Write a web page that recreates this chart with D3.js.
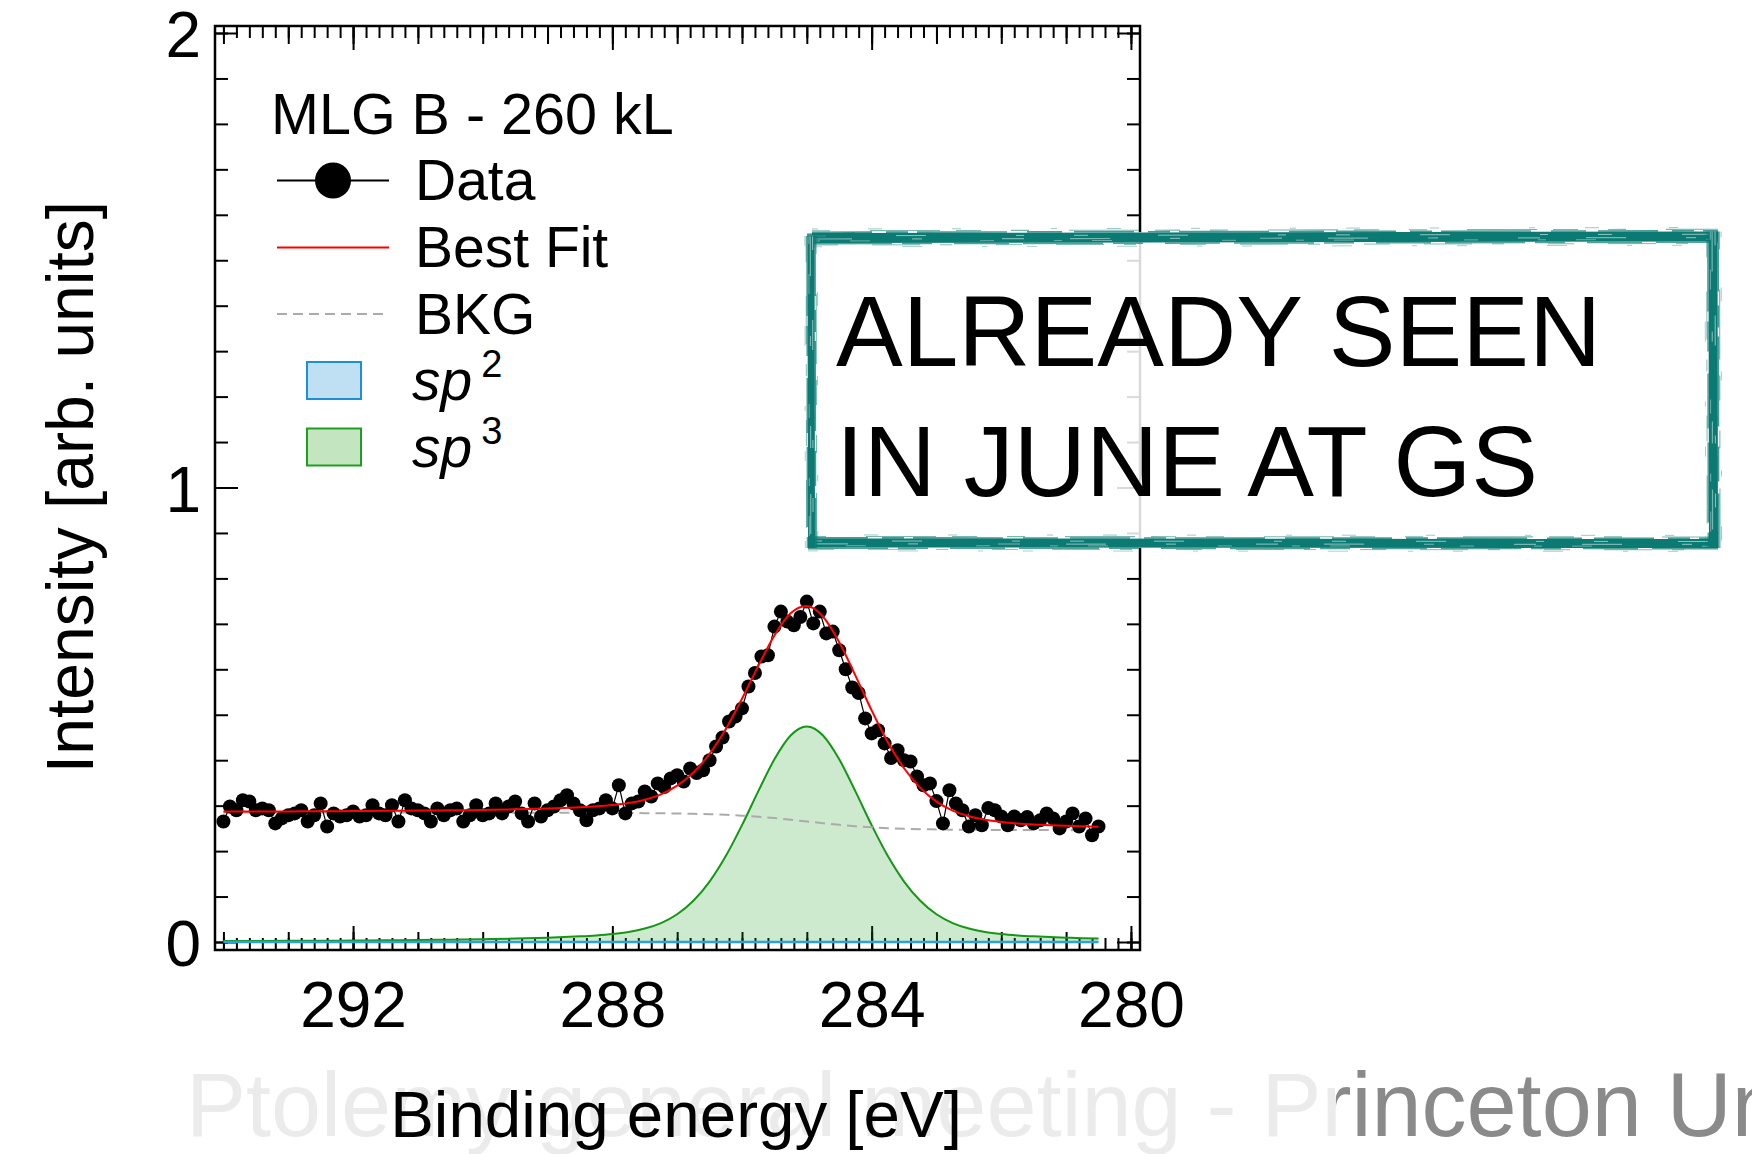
<!DOCTYPE html>
<html>
<head>
<meta charset="utf-8">
<script src="https://cdn.jsdelivr.net/npm/d3@7/dist/d3.min.js"></script>
<style>
  html, body { margin: 0; padding: 0; background: #fff; }
  svg { display: block; }
  text { font-family: "Liberation Sans", Arial, Helvetica, sans-serif; }
</style>
</head>
<body>
<svg id="chart" width="1752" height="1154"></svg>
<script>
// ---- C 1s spectrum, MLG sample B after 260 kL exposure ----
// binding energy of each measured point [eV]
const energy = [
  294.0, 293.9, 293.8, 293.7, 293.6, 293.5, 293.4, 293.3, 293.2, 293.1,
  293.0, 292.9, 292.8, 292.7, 292.6, 292.5, 292.4, 292.3, 292.2, 292.1,
  292.0, 291.9, 291.8, 291.7, 291.6, 291.5, 291.4, 291.3, 291.2, 291.1,
  291.0, 290.9, 290.8, 290.7, 290.6, 290.5, 290.4, 290.3, 290.2, 290.1,
  290.0, 289.9, 289.8, 289.7, 289.6, 289.5, 289.4, 289.3, 289.2, 289.1,
  289.0, 288.9, 288.8, 288.7, 288.6, 288.5, 288.4, 288.3, 288.2, 288.1,
  288.0, 287.9, 287.8, 287.7, 287.6, 287.5, 287.4, 287.3, 287.2, 287.1,
  287.0, 286.9, 286.8, 286.7, 286.6, 286.5, 286.4, 286.3, 286.2, 286.1,
  286.0, 285.9, 285.8, 285.7, 285.6, 285.5, 285.4, 285.3, 285.2, 285.1,
  285.0, 284.9, 284.8, 284.7, 284.6, 284.5, 284.4, 284.3, 284.2, 284.1,
  284.0, 283.9, 283.8, 283.7, 283.6, 283.5, 283.4, 283.3, 283.2, 283.1,
  283.0, 282.9, 282.8, 282.7, 282.6, 282.5, 282.4, 282.3, 282.2, 282.1,
  282.0, 281.9, 281.8, 281.7, 281.6, 281.5, 281.4, 281.3, 281.2, 281.1,
  281.0, 280.9, 280.8, 280.7, 280.6, 280.5
];
// measured intensity [arb. units]
const intensity = [
  0.265, 0.298, 0.290, 0.312, 0.309, 0.290, 0.294, 0.290, 0.261, 0.272,
  0.279, 0.283, 0.290, 0.265, 0.279, 0.305, 0.254, 0.283, 0.276, 0.279,
  0.287, 0.276, 0.279, 0.301, 0.283, 0.279, 0.301, 0.265, 0.312, 0.294,
  0.290, 0.283, 0.265, 0.294, 0.279, 0.290, 0.294, 0.265, 0.279, 0.301,
  0.279, 0.283, 0.305, 0.283, 0.298, 0.309, 0.283, 0.265, 0.305, 0.276,
  0.290, 0.298, 0.312, 0.323, 0.305, 0.290, 0.268, 0.290, 0.294, 0.312,
  0.294, 0.345, 0.283, 0.305, 0.309, 0.331, 0.320, 0.349, 0.341, 0.360,
  0.367, 0.353, 0.382, 0.372, 0.378, 0.400, 0.430, 0.450, 0.485, 0.496,
  0.514, 0.562, 0.592, 0.628, 0.631, 0.694, 0.727, 0.705, 0.697, 0.715,
  0.749, 0.701, 0.727, 0.679, 0.683, 0.642, 0.600, 0.560, 0.548, 0.492,
  0.459, 0.466, 0.437, 0.405, 0.422, 0.400, 0.397, 0.364, 0.345, 0.349,
  0.310, 0.261, 0.334, 0.305, 0.290, 0.254, 0.279, 0.257, 0.295, 0.290,
  0.276, 0.257, 0.276, 0.268, 0.275, 0.261, 0.268, 0.283, 0.272, 0.250,
  0.265, 0.283, 0.254, 0.272, 0.235, 0.254
];

// fit model sampled on its own energy grid [eV]
const fitEnergy = [
  294.0, 293.5, 293.0, 292.5, 292.0, 291.5, 291.0, 290.5, 290.0, 289.5,
  289.0, 288.75, 288.5, 288.25, 288.0, 287.75, 287.5, 287.25, 287.0, 286.75,
  286.5, 286.25, 286.0, 285.75, 285.5, 285.25, 285.0, 284.75, 284.5, 284.25,
  284.0, 283.75, 283.5, 283.25, 283.0, 282.75, 282.5, 282.25, 282.0, 281.75,
  281.5, 281.25, 281.0, 280.75, 280.5
];
const bestFit = [
  0.2870, 0.2872, 0.2874, 0.2877, 0.2880, 0.2886, 0.2891, 0.2898, 0.2907, 0.2920,
  0.2938, 0.2950, 0.2965, 0.2985, 0.3014, 0.3058, 0.3131, 0.3249, 0.3439, 0.3728,
  0.4142, 0.4689, 0.5351, 0.6070, 0.6745, 0.7233, 0.7392, 0.7157, 0.6597, 0.5862,
  0.5095, 0.4395, 0.3822, 0.3390, 0.3088, 0.2889, 0.2765, 0.2688, 0.2641, 0.2609,
  0.2587, 0.2570, 0.2556, 0.2546, 0.2536
];
const background = [
  0.2850, 0.2850, 0.2849, 0.2849, 0.2848, 0.2848, 0.2847, 0.2846, 0.2845, 0.2844,
  0.2843, 0.2842, 0.2841, 0.2840, 0.2839, 0.2837, 0.2835, 0.2832, 0.2828, 0.2821,
  0.2812, 0.2799, 0.2780, 0.2756, 0.2726, 0.2690, 0.2652, 0.2614, 0.2578, 0.2548,
  0.2524, 0.2505, 0.2492, 0.2483, 0.2477, 0.2472, 0.2469, 0.2467, 0.2466, 0.2464,
  0.2463, 0.2462, 0.2461, 0.2461, 0.2460
];
const sp2Component = [
  0, 0, 0, 0, 0, 0, 0, 0, 0, 0,
  0, 0, 0, 0, 0, 0, 0, 0, 0, 0,
  0, 0, 0, 0, 0, 0, 0, 0, 0, 0,
  0, 0, 0, 0, 0, 0, 0, 0, 0, 0,
  0, 0, 0, 0, 0
];
const sp3Component = [
  0.0020, 0.0022, 0.0025, 0.0028, 0.0032, 0.0038, 0.0044, 0.0052, 0.0062, 0.0076,
  0.0095, 0.0108, 0.0124, 0.0145, 0.0175, 0.0221, 0.0296, 0.0417, 0.0611, 0.0907,
  0.1330, 0.1890, 0.2571, 0.3314, 0.4019, 0.4543, 0.4740, 0.4543, 0.4019, 0.3314,
  0.2571, 0.1890, 0.1330, 0.0907, 0.0611, 0.0417, 0.0296, 0.0221, 0.0175, 0.0145,
  0.0124, 0.0108, 0.0095, 0.0085, 0.0076
];

const xTickLabels = [292, 288, 284, 280];
const yTickLabels = [0, 1, 2];
const xTitle = "Binding energy [eV]";
const yTitle = "Intensity [arb. units]";
const legendTitle = "MLG B - 260 kL";
const legendLabels = ["Data", "Best Fit", "BKG", "sp", "sp"];
const legendSup = ["", "", "", "2", "3"];
const noteLines = ["ALREADY SEEN", "IN JUNE AT GS"];
const footerText = "Ptolemy general meeting - Princeton University";

// ---- layout ----
const svg = d3.select("#chart");
const frame = { left: 215, right: 1140, top: 26, bottom: 950 };
const x = d3.scaleLinear().domain([294.13, 279.86]).range([frame.left, frame.right]);
const y = d3.scaleLinear().domain([-0.0176, 2.0154]).range([frame.bottom, frame.top]);

// slide footer, washed out behind the plot panel
svg.append("text")
  .attr("x", 186).attr("y", 1136)
  .attr("font-size", 90).attr("fill", "#8a8a8a")
  .text(footerText);
svg.append("rect")
  .attr("x", 0).attr("y", 0).attr("width", 1336).attr("height", 1154)
  .attr("fill", "#fff").attr("fill-opacity", 0.83);

// ---- axes (ROOT style: inward ticks on all four sides) ----
const axes = svg.append("g").attr("class", "axes");
function tickLayer(axis, tx, ty) {
  const g = axes.append("g").attr("transform", `translate(${tx},${ty})`).call(axis);
  g.select(".domain").remove();
  g.selectAll(".tick line").attr("stroke", "#000").attr("stroke-width", 2);
  return g;
}
const [xLo, xHi] = [279.86, 294.13];
const xMinor = d3.ticks(xLo, xHi, 70);
const xMid = d3.ticks(xLo, xHi, 14);
const yMinor = d3.ticks(-0.0176, 2.0154, 20);

[[d3.axisBottom, frame.bottom], [d3.axisTop, frame.top]].forEach(([mk, pos]) => {
  tickLayer(mk(x).tickValues(xMinor).tickSize(-12).tickFormat(""), 0, pos);
  tickLayer(mk(x).tickValues(xMid).tickSize(-18).tickFormat(""), 0, pos);
  tickLayer(mk(x).tickValues(xTickLabels).tickSize(-24).tickFormat(""), 0, pos);
});
[[d3.axisLeft, frame.left], [d3.axisRight, frame.right]].forEach(([mk, pos]) => {
  tickLayer(mk(y).tickValues(yMinor).tickSize(-13).tickFormat(""), pos, 0);
  tickLayer(mk(y).tickValues(yTickLabels).tickSize(-23).tickFormat(""), pos, 0);
});

// tick labels
const xLab = tickLayer(d3.axisBottom(x).tickValues(xTickLabels).tickSize(0).tickPadding(32).tickFormat(d3.format("d")), 0, frame.bottom);
xLab.attr("font-family", null).attr("font-size", null);
xLab.selectAll("text").attr("font-size", 64).attr("fill", "#000");
const yLab = tickLayer(d3.axisLeft(y).tickValues(yTickLabels).tickSize(0).tickPadding(14).tickFormat(d3.format("d")), frame.left, 0);
yLab.attr("font-family", null).attr("font-size", null);
yLab.selectAll("text").attr("font-size", 64).attr("fill", "#000").attr("dy", "0.37em");

// axis titles
svg.append("text")
  .attr("x", 676).attr("y", 1137)
  .attr("text-anchor", "middle").attr("font-size", 65.5)
  .text(xTitle);
svg.append("text")
  .attr("transform", `translate(93,${(frame.top + frame.bottom) / 2 - 1}) rotate(-90)`)
  .attr("text-anchor", "middle").attr("font-size", 66)
  .text(yTitle);

// ---- fit components and data ----
const plot = svg.append("g");
const fitPts = (vals) => fitEnergy.map((e, i) => [e, vals[i]]);
const lineGen = d3.line().x(d => x(d[0])).y(d => y(d[1])).curve(d3.curveMonotoneX);
const areaGen = d3.area().x(d => x(d[0])).y0(y(0)).y1(d => y(d[1])).curve(d3.curveMonotoneX);

plot.append("path").datum(fitPts(sp3Component))
  .attr("d", areaGen).attr("fill", "rgb(30,160,30)").attr("fill-opacity", 0.22);
plot.append("path").datum(fitPts(sp3Component))
  .attr("d", lineGen).attr("fill", "none").attr("stroke", "#159615").attr("stroke-width", 2);
plot.append("path").datum(fitPts(sp2Component))
  .attr("d", areaGen).attr("fill", "#bfe0f3");
plot.append("path").datum(fitPts(sp2Component))
  .attr("d", lineGen).attr("fill", "none").attr("stroke", "#2ba2df").attr("stroke-width", 2.5);
plot.append("path").datum(fitPts(background))
  .attr("d", lineGen).attr("fill", "none").attr("stroke", "#ababab")
  .attr("stroke-width", 2).attr("stroke-dasharray", "10,6");

const dataPts = energy.map((e, i) => [e, intensity[i]]);
plot.append("path").datum(dataPts)
  .attr("d", d3.line().x(d => x(d[0])).y(d => y(d[1])))
  .attr("fill", "none").attr("stroke", "#000").attr("stroke-width", 1.2);
plot.selectAll("circle.pt").data(dataPts).join("circle")
  .attr("class", "pt")
  .attr("cx", d => x(d[0])).attr("cy", d => y(d[1])).attr("r", 7)
  .attr("fill", "#000");

plot.append("path").datum(fitPts(bestFit))
  .attr("d", lineGen).attr("fill", "none").attr("stroke", "#ff0000").attr("stroke-width", 2);

// frame
svg.append("rect")
  .attr("x", frame.left).attr("y", frame.top)
  .attr("width", frame.right - frame.left).attr("height", frame.bottom - frame.top)
  .attr("fill", "none").attr("stroke", "#000").attr("stroke-width", 2.5);

// ---- legend ----
const leg = svg.append("g");
leg.append("text").attr("x", 271).attr("y", 134).attr("font-size", 57.5).text(legendTitle);
const rowY = [180.5, 247.5, 314, 380.5, 447];
const symL = 277, symR = 389, symC = 333;
leg.append("line").attr("x1", symL).attr("x2", symR).attr("y1", rowY[0]).attr("y2", rowY[0])
  .attr("stroke", "#000").attr("stroke-width", 2);
leg.append("circle").attr("cx", symC).attr("cy", rowY[0]).attr("r", 18).attr("fill", "#000");
leg.append("line").attr("x1", symL).attr("x2", symR).attr("y1", rowY[1]).attr("y2", rowY[1])
  .attr("stroke", "#ff0000").attr("stroke-width", 2);
leg.append("line").attr("x1", symL).attr("x2", symR).attr("y1", rowY[2]).attr("y2", rowY[2])
  .attr("stroke", "#ababab").attr("stroke-width", 2).attr("stroke-dasharray", "10,6");
leg.append("rect").attr("x", 307).attr("y", rowY[3] - 18.5).attr("width", 54).attr("height", 37)
  .attr("fill", "#bfe0f3").attr("stroke", "#1b8fd8").attr("stroke-width", 2);
leg.append("rect").attr("x", 307).attr("y", rowY[4] - 18.5).attr("width", 54).attr("height", 37)
  .attr("fill", "#c3e5c0").attr("stroke", "#1f9f1f").attr("stroke-width", 2);
legendLabels.forEach((lab, i) => {
  const t = leg.append("text").attr("x", legendSup[i] ? 412 : 415).attr("y", rowY[i] + 19.5)
    .attr("font-size", 57);
  if (legendSup[i]) {
    t.append("tspan").attr("font-style", "italic").text(lab);
    t.append("tspan").attr("font-size", 38).attr("dx", 9).attr("dy", -23).text(legendSup[i]);
  } else {
    t.text(lab);
  }
});

// ---- hand-drawn note box ----
const note = svg.append("g");
const box = { l: 807, t: 232, r: 1718, b: 548 };
note.append("rect").attr("x", box.l).attr("y", box.t)
  .attr("width", box.r - box.l).attr("height", box.b - box.t)
  .attr("fill", "#fff").attr("fill-opacity", 0.85);
note.selectAll("text.note").data(noteLines).join("text")
  .attr("class", "note")
  .attr("x", 836).attr("y", (d, i) => 366 + i * 130)
  .attr("font-size", 100).attr("fill", "#000")
  .text(d => d);

const teal = "#0a7a72";
// each side: start point, end point, brush width
const sides = [
  { x1: 812, y1: 238, x2: 1718, y2: 236.5, w: 10 },
  { x1: 808, y1: 543, x2: 1718, y2: 543.5, w: 9 },
  { x1: 811, y1: 236, x2: 811.5, y2: 548, w: 7 },
  { x1: 1713, y1: 231.5, x2: 1713.5, y2: 548, w: 9 }
];
// loose bristle strands along each brush stroke (offset in half-widths)
const strands = [
  { off: -1.15, w: 1.6, dash: "60 14 22 9 90 20 35 12", color: teal, op: 0.75 },
  { off: -1.45, w: 1.1, dash: "18 40 70 16 25 30", color: teal, op: 0.55 },
  { off: -1.8, w: 0.9, dash: "6 50 14 70 9 90", color: teal, op: 0.45 },
  { off: 1.15, w: 1.5, dash: "80 10 30 22 55 14", color: teal, op: 0.7 },
  { off: 1.4, w: 1.0, dash: "26 34 48 20 12 44", color: teal, op: 0.5 },
  { off: 1.75, w: 0.9, dash: "10 80 20 60 5 40", color: teal, op: 0.4 },
  { off: -0.45, w: 1.0, dash: "14 70 30 90 8 50", color: "#fff", op: 0.55 },
  { off: 0.2, w: 1.2, dash: "40 60 10 80 22 46", color: "#fff", op: 0.45 },
  { off: 0.6, w: 0.8, dash: "8 30 20 110 14 60", color: "#fff", op: 0.5 }
];
sides.forEach(s => {
  note.append("line").attr("x1", s.x1).attr("y1", s.y1).attr("x2", s.x2).attr("y2", s.y2)
    .attr("stroke", teal).attr("stroke-width", s.w).attr("stroke-linecap", "butt");
  const len = Math.hypot(s.x2 - s.x1, s.y2 - s.y1);
  const nx = -(s.y2 - s.y1) / len, ny = (s.x2 - s.x1) / len;
  strands.forEach(st => {
    const o = st.off * s.w / 2;
    note.append("line")
      .attr("x1", s.x1 + nx * o).attr("y1", s.y1 + ny * o)
      .attr("x2", s.x2 + nx * o).attr("y2", s.y2 + ny * o)
      .attr("stroke", st.color).attr("stroke-opacity", st.op)
      .attr("stroke-width", st.w).attr("stroke-dasharray", st.dash);
  });
});
// brush start at the top-left corner
note.append("line").attr("x1", 807).attr("y1", 235).attr("x2", 860).attr("y2", 234)
  .attr("stroke", teal).attr("stroke-width", 3).attr("stroke-opacity", 0.8)
  .attr("stroke-dasharray", "30 6 12 5");
</script>
</body>
</html>
